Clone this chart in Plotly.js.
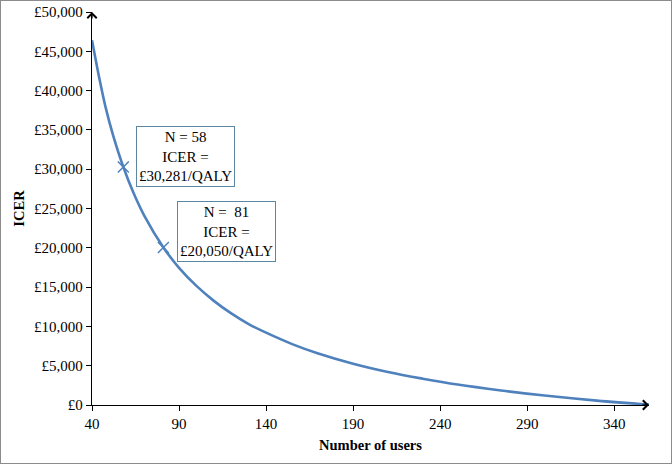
<!DOCTYPE html>
<html>
<head>
<meta charset="utf-8">
<script src="https://cdn.plot.ly/plotly-3.0.1.min.js"></script>
<style>
  body { margin: 0; background: #fff; }
  #plot { width: 670px; height: 462px; border: 1px solid #8c8c8c; }
</style>
</head>
<body>
<div id="plot"></div>
<script>
// ICER curve, values
var users = [40, 44, 48, 52, 58, 64, 70, 81, 90, 100, 110, 120, 130, 140, 155, 170, 190, 210, 230, 250, 275, 300, 330, 360];
var icer = [46400, 41800, 37700, 34400, 30281, 26900, 24100, 20050, 17450, 15150, 13250, 11650, 10300, 9200, 7750, 6550, 5250, 4200, 3350, 2600, 1850, 1200, 560, 50];

// highlighted points
var markUsers = [58, 81];
var markIcer = [30281, 20050];
var markLabels = ['N = 58<br>ICER =<br>£30,281/QALY', 'N =  81<br>ICER =<br>£20,050/QALY'];
var labelX = [94, 117];
var labelY = [31600, 22100];

var blue = '#4f81bd';
var serif = 'Liberation Serif, Times New Roman, serif';

var curve = {
  x: users,
  y: icer,
  mode: 'lines',
  type: 'scatter',
  line: { color: blue, width: 2.6, shape: 'spline', smoothing: 1 },
  hoverinfo: 'x+y'
};

var marks = {
  x: markUsers,
  y: markIcer,
  mode: 'markers',
  type: 'scatter',
  marker: { symbol: 'x-thin-open', size: 11, color: blue, line: { color: blue, width: 1.5 } }
};

var notes = markLabels.map(function (t, i) {
  return {
    x: labelX[i], y: labelY[i], xref: 'x', yref: 'y',
    text: t, showarrow: false,
    font: { family: serif, size: 15, color: '#000' },
    bordercolor: '#5b87a3', borderwidth: 1, borderpad: 2,
    bgcolor: '#fff'
  };
});

// axis arrow heads
notes.push({ x: 1, y: 0, xref: 'paper', yref: 'paper', ax: -8, ay: 0,
  showarrow: true, arrowhead: 4, arrowsize: 1.4, arrowwidth: 1.3, arrowcolor: '#000', text: '' });
notes.push({ x: 0, y: 1, xref: 'paper', yref: 'paper', ax: 0, ay: 8,
  showarrow: true, arrowhead: 4, arrowsize: 1.4, arrowwidth: 1.3, arrowcolor: '#000', text: '' });

var layout = {
  width: 670,
  height: 462,
  margin: { l: 91, r: 22, t: 11, b: 58 },
  showlegend: false,
  plot_bgcolor: '#fff',
  paper_bgcolor: '#fff',
  font: { family: serif, size: 15, color: '#000' },
  xaxis: {
    range: [40, 360],
    tick0: 40, dtick: 50,
    showgrid: false, zeroline: false,
    showline: true, linecolor: '#000', linewidth: 1.3,
    ticks: 'outside', ticklen: 5, tickcolor: '#000',
    title: { text: '<b>Number of users</b>', font: { family: serif, size: 14.5 }, standoff: 8 }
  },
  yaxis: {
    range: [0, 50000],
    dtick: 5000,
    tickprefix: '£', tickformat: ',d',
    showgrid: false, zeroline: false,
    showline: true, linecolor: '#000', linewidth: 1.3,
    ticks: 'outside', ticklen: 5, tickcolor: '#000',
    title: { text: '<b>ICER</b>', font: { family: serif, size: 14.5 }, standoff: 6 }
  },
  annotations: notes
};

Plotly.newPlot('plot', [curve, marks], layout, { displayModeBar: false, staticPlot: true });
</script>
</body>
</html>
